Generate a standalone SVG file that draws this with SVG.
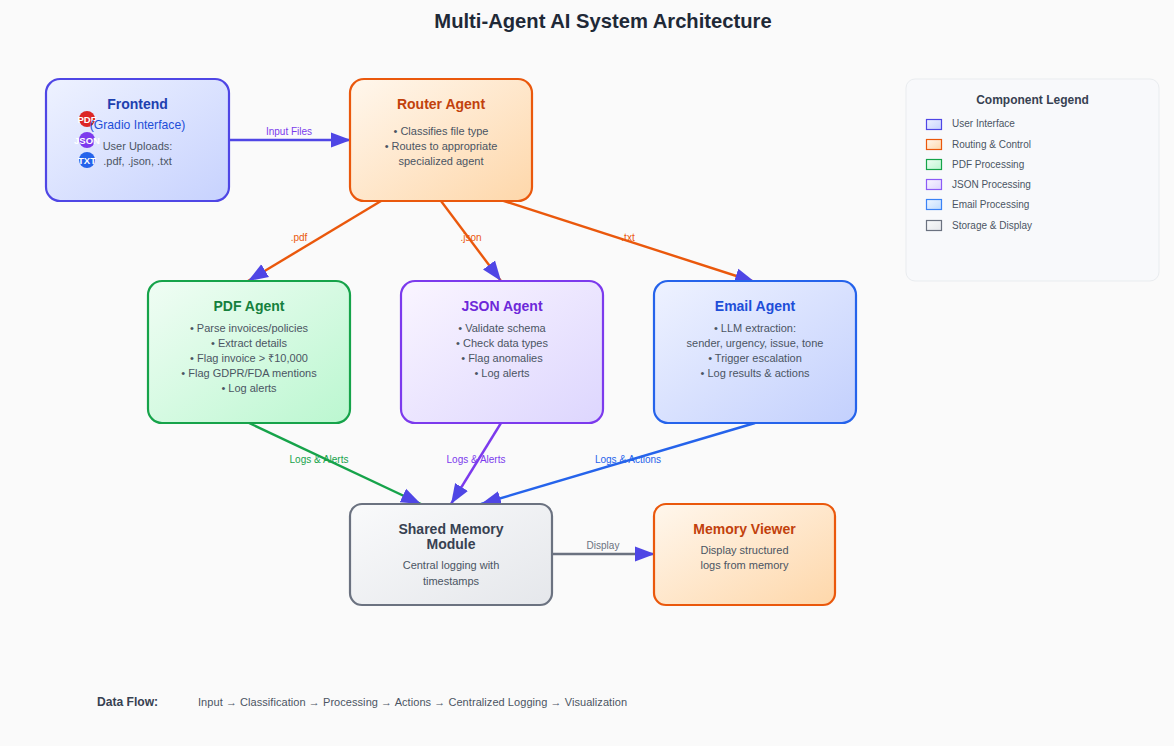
<svg xmlns="http://www.w3.org/2000/svg" width="1174" height="746" viewBox="0 0 1174 746">
<defs>
<linearGradient id="gUser" x1="0" y1="0" x2="1" y2="1"><stop offset="0" stop-color="#eef2ff"/><stop offset="1" stop-color="#c7d2fe"/></linearGradient>
<linearGradient id="gRoute" x1="0" y1="0" x2="1" y2="1"><stop offset="0" stop-color="#fff7ed"/><stop offset="1" stop-color="#fed7aa"/></linearGradient>
<linearGradient id="gPdf" x1="0" y1="0" x2="1" y2="1"><stop offset="0" stop-color="#f0fdf4"/><stop offset="1" stop-color="#bbf7d0"/></linearGradient>
<linearGradient id="gJson" x1="0" y1="0" x2="1" y2="1"><stop offset="0" stop-color="#faf5ff"/><stop offset="1" stop-color="#ddd6fe"/></linearGradient>
<linearGradient id="gEmail" x1="0" y1="0" x2="1" y2="1"><stop offset="0" stop-color="#eff6ff"/><stop offset="1" stop-color="#bfdbfe"/></linearGradient>
<linearGradient id="gEmail2" x1="0" y1="0" x2="1" y2="1"><stop offset="0" stop-color="#eef2ff"/><stop offset="1" stop-color="#c3d0fd"/></linearGradient>
<linearGradient id="gStore" x1="0" y1="0" x2="1" y2="1"><stop offset="0" stop-color="#f9fafb"/><stop offset="1" stop-color="#e5e7eb"/></linearGradient>
<marker id="arrow" markerUnits="userSpaceOnUse" markerWidth="22" markerHeight="18" refX="20" refY="9" orient="auto"><path d="M0 1.500L20 9L0 16.500Z" fill="#4f46e5"/></marker>
</defs>
<style>
text{font-family:"Liberation Sans",Arial,sans-serif;text-anchor:middle}
.box{stroke-width:2.200}
.title{font-size:14px;font-weight:700}
.body{font-size:11px;fill:#4b5563}
.edge{fill:none;stroke-width:2.400;marker-end:url(#arrow)}
.lab{font-size:10px}
.leg{font-size:10px;fill:#4b5563;text-anchor:start}
.sw{stroke-width:1.200}
.ic{font-size:9.500px;font-weight:700;fill:#fff}
</style>
<rect width="1174" height="746" fill="#fafafa"/>
<text x="603" y="28" font-size="20.200" font-weight="700" fill="#1f2937" id="heading">Multi-Agent AI System Architecture</text>

<g id="connectors">
<line class="edge" x1="229" y1="140" x2="351" y2="140" stroke="#4f46e5"/>
<line class="edge" x1="381" y1="201" x2="248" y2="281" stroke="#ea580c"/>
<line class="edge" x1="441" y1="201" x2="501" y2="281" stroke="#ea580c"/>
<line class="edge" x1="501" y1="200" x2="755" y2="282" stroke="#ea580c"/>
<line class="edge" x1="249" y1="423" x2="421" y2="504" stroke="#16a34a"/>
<line class="edge" x1="501" y1="423" x2="451" y2="504" stroke="#7c3aed"/>
<line class="edge" x1="755" y1="423" x2="481" y2="504" stroke="#2563eb"/>
<line class="edge" x1="552" y1="554" x2="655" y2="554" stroke="#6b7280"/>
<text class="lab" x="289" y="135" fill="#7c3aed">Input Files</text>
<text class="lab" x="299" y="241" fill="#ea580c">.pdf</text>
<text class="lab" x="471" y="241" fill="#ea580c">.json</text>
<text class="lab" x="628" y="241" fill="#ea580c">.txt</text>
<text class="lab" x="319" y="463" fill="#16a34a">Logs &amp; Alerts</text>
<text class="lab" x="476" y="463" fill="#7c3aed">Logs &amp; Alerts</text>
<text class="lab" x="628" y="463" fill="#2563eb">Logs &amp; Actions</text>
<text class="lab" x="603" y="549" fill="#6b7280">Display</text>
</g>

<g id="frontend">
<rect class="box" x="46" y="79" width="183" height="122" rx="14" fill="url(#gUser)" stroke="#4f46e5"/>
<circle cx="87" cy="119" r="8" fill="#dc2626"/><text class="ic" x="87" y="123">PDF</text>
<circle cx="87" cy="140" r="8" fill="#7c3aed"/><text class="ic" x="87" y="144">JSON</text>
<circle cx="87" cy="160" r="8" fill="#2563eb"/><text class="ic" x="87" y="164">TXT</text>
<text class="title" x="137.500" y="109" fill="#1e40af">Frontend</text>
<text x="137.500" y="129" font-size="12.200" fill="#1d4ed8">(Gradio Interface)</text>
<text class="body" x="137.500" y="150">User Uploads:</text>
<text class="body" x="137.500" y="165">.pdf, .json, .txt</text>
</g>
<g id="router">
<rect class="box" x="350" y="79" width="182" height="122" rx="14" fill="url(#gRoute)" stroke="#ea580c"/>
<text class="title" x="441" y="109" fill="#c2410c">Router Agent</text>
<text class="body" x="441" y="135">• Classifies file type</text>
<text class="body" x="441" y="150">• Routes to appropriate</text>
<text class="body" x="441" y="165">specialized agent</text>
</g>
<g id="pdf-agent">
<rect class="box" x="148" y="281" width="202" height="142" rx="14" fill="url(#gPdf)" stroke="#16a34a"/>
<text class="title" x="249" y="311" fill="#15803d">PDF Agent</text>
<text class="body" x="249" y="332">• Parse invoices/policies</text>
<text class="body" x="249" y="347">• Extract details</text>
<text class="body" x="249" y="362">• Flag invoice &gt; ₹10,000</text>
<text class="body" x="249" y="377">• Flag GDPR/FDA mentions</text>
<text class="body" x="249" y="392">• Log alerts</text>
</g>
<g id="json-agent">
<rect class="box" x="401" y="281" width="202" height="142" rx="14" fill="url(#gJson)" stroke="#7c3aed"/>
<text class="title" x="502" y="311" fill="#6d28d9">JSON Agent</text>
<text class="body" x="502" y="332">• Validate schema</text>
<text class="body" x="502" y="347">• Check data types</text>
<text class="body" x="502" y="362">• Flag anomalies</text>
<text class="body" x="502" y="377">• Log alerts</text>
</g>
<g id="email-agent">
<rect class="box" x="654" y="281" width="202" height="142" rx="14" fill="url(#gEmail2)" stroke="#2563eb"/>
<text class="title" x="755" y="311" fill="#1d4ed8">Email Agent</text>
<text class="body" x="755" y="332">• LLM extraction:</text>
<text class="body" x="755" y="347">sender, urgency, issue, tone</text>
<text class="body" x="755" y="362">• Trigger escalation</text>
<text class="body" x="755" y="377">• Log results &amp; actions</text>
</g>
<g id="shared-memory">
<rect class="box" x="350" y="504" width="202" height="101" rx="12" fill="url(#gStore)" stroke="#6b7280"/>
<text class="title" x="451" y="534" fill="#374151">Shared Memory</text>
<text class="title" x="451" y="549" fill="#374151">Module</text>
<text class="body" x="451" y="569">Central logging with</text>
<text class="body" x="451" y="585">timestamps</text>
</g>
<g id="memory-viewer">
<rect class="box" x="654" y="504" width="181" height="101" rx="12" fill="url(#gRoute)" stroke="#ea580c"/>
<text class="title" x="744.500" y="534" fill="#c2410c">Memory Viewer</text>
<text class="body" x="744.500" y="554">Display structured</text>
<text class="body" x="744.500" y="569">logs from memory</text>
</g>
<g id="legend">
<rect x="906" y="79" width="253" height="202" rx="9" fill="#f8f9fb" stroke="#e9ecef" stroke-width="1"/>
<text x="1032.500" y="104" font-size="12" font-weight="700" fill="#374151">Component Legend</text>
<rect class="sw" x="926.500" y="119.500" width="15" height="10" fill="url(#gUser)" stroke="#4f46e5"/><text class="leg" x="952" y="127">User Interface</text>
<rect class="sw" x="926.500" y="139.500" width="15" height="10" fill="url(#gRoute)" stroke="#ea580c"/><text class="leg" x="952" y="148">Routing &amp; Control</text>
<rect class="sw" x="926.500" y="159.500" width="15" height="10" fill="url(#gPdf)" stroke="#16a34a"/><text class="leg" x="952" y="168">PDF Processing</text>
<rect class="sw" x="926.500" y="179.500" width="15" height="10" fill="url(#gJson)" stroke="#8b5cf6"/><text class="leg" x="952" y="188">JSON Processing</text>
<rect class="sw" x="926.500" y="199.500" width="15" height="10" fill="url(#gEmail)" stroke="#3b82f6"/><text class="leg" x="952" y="208">Email Processing</text>
<rect class="sw" x="926.500" y="220.500" width="15" height="10" fill="url(#gStore)" stroke="#6b7280"/><text class="leg" x="952" y="229">Storage &amp; Display</text>
</g>
<g id="data-flow">
<text x="97" y="706" font-size="12.100" font-weight="700" fill="#374151" style="text-anchor:start">Data Flow:</text>
<text x="198" y="706" font-size="11" fill="#4b5563" textLength="429" style="text-anchor:start">Input → Classification → Processing → Actions → Centralized Logging → Visualization</text>
</g>
</svg>
